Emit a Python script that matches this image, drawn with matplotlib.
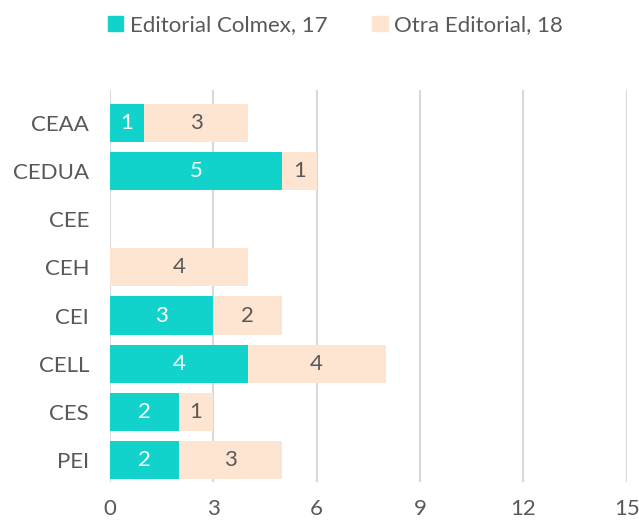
import matplotlib.pyplot as plt
from matplotlib.patches import Patch

centros = ['CEAA', 'CEDUA', 'CEE', 'CEH', 'CEI', 'CELL', 'CES', 'PEI']
colmex = [1, 5, 0, 0, 3, 4, 2, 2]
otra = [3, 1, 0, 4, 2, 4, 1, 3]
ticks = [0, 3, 6, 9, 12, 15]

teal = '#12D3CB'
peach = '#FDE5D2'
grey = '#595959'

plt.rcParams['font.family'] = ['Lato', 'DejaVu Sans']
plt.rcParams['font.weight'] = 'normal'

fig = plt.figure(figsize=(6.39, 5.25), dpi=100)
ax = fig.add_axes([0.172, 0.082, 0.809, 0.747])

y = list(range(len(centros)))
b1 = ax.barh(y, colmex, height=0.79, color=teal, zorder=3)
b2 = ax.barh(y, otra, left=colmex, height=0.79, color=peach, zorder=3)

for rect, v in zip(b1, colmex):
    if v:
        ax.text(rect.get_x() + rect.get_width() / 2, rect.get_y() + rect.get_height() / 2,
                str(v), ha='center', va='center', color='white', fontsize=16, zorder=4)
for rect, v in zip(b2, otra):
    if v:
        ax.text(rect.get_x() + rect.get_width() / 2, rect.get_y() + rect.get_height() / 2,
                str(v), ha='center', va='center', color=grey, fontsize=16, zorder=4)

ax.set_yticks(y)
ax.set_yticklabels(centros)
ax.set_ylim(len(centros) - 1 + 0.45, -0.68)
ax.set_xlim(0, 15)
ax.set_xticks(ticks)
ax.tick_params(axis='both', length=0, labelsize=16, labelcolor=grey)
ax.tick_params(axis='x', pad=12)
ax.tick_params(axis='y', pad=15)
ax.grid(axis='x', color='#D9D9D9', linewidth=1.5, zorder=0)
for s in ax.spines.values():
    s.set_visible(False)

handles = [Patch(color=teal), Patch(color=peach)]
fig.legend(handles, ['Editorial Colmex, 17', 'Otra Editorial, 18'],
           loc='center', bbox_to_anchor=(0.525, 0.952), ncol=2, frameon=False,
           fontsize=16, labelcolor=grey, handlelength=0.7, handleheight=0.7,
           handletextpad=0.3, columnspacing=2.0)

fig.savefig('out.png', dpi=100)
